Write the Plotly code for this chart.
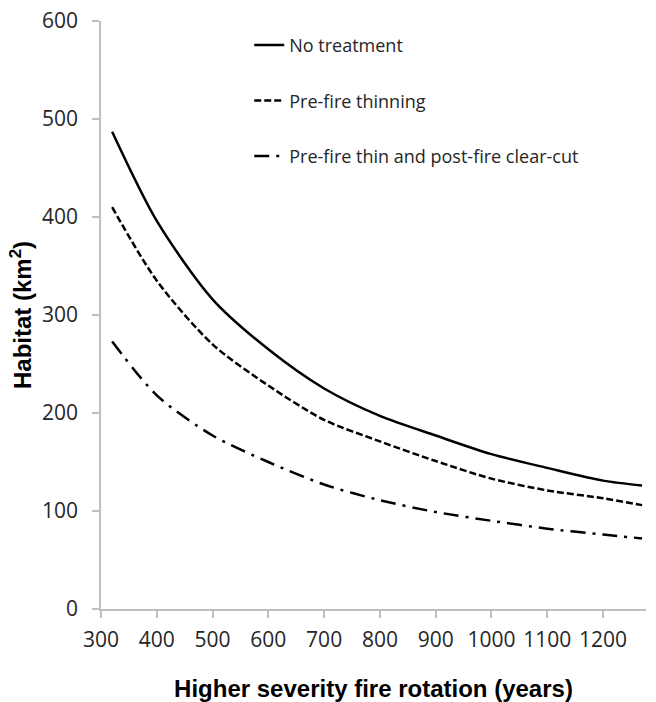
import plotly.graph_objects as go

rotation_years = [320, 400, 500, 600, 700, 800, 900, 1000, 1100, 1200, 1270]
no_treatment = [487, 396, 316, 265, 225, 197, 177, 158, 144, 131, 126]
prefire_thinning = [410, 335, 270, 228, 193, 171, 151, 133, 121, 113, 106]
thin_and_clearcut = [273, 218, 177, 150, 127, 111, 99, 90, 82, 76, 72]

series = [
    ("No treatment", no_treatment, "solid"),
    ("Pre-fire thinning", prefire_thinning, "7px,3px"),
    ("Pre-fire thin and post-fire clear-cut", thin_and_clearcut, "15px,7px,3px,7px"),
]

fig = go.Figure()
for i, (name, vals, dash) in enumerate(series):
    fig.add_trace(go.Scatter(
        x=rotation_years, y=vals, mode="lines", name=name,
        legendgroup=f"g{i}",
        line=dict(color="black", width=2.5, dash=dash, shape="spline", smoothing=0.8),
    ))

axis_font = dict(family="Open Sans, Lato, sans-serif", size=21, color="#262626")
title_font = dict(family="Liberation Sans, Arial, sans-serif", size=24, color="black")
fig.update_layout(
    width=656, height=702,
    margin=dict(l=101, r=10, t=21, b=93),
    paper_bgcolor="white", plot_bgcolor="white",
    showlegend=True,
    legend=dict(
        x=0.272, y=0.99, xanchor="left", yanchor="top",
        font=dict(family="Open Sans, Lato, sans-serif", size=18, color="#262626"),
        traceorder="grouped", tracegroupgap=29,
        bgcolor="rgba(0,0,0,0)",
    ),
    xaxis=dict(
        automargin=False,
        range=[300, 1277], tickvals=[300, 400, 500, 600, 700, 800, 900, 1000, 1100, 1200],
        showgrid=False, zeroline=False, showline=True, linecolor="#bfbfbf", linewidth=1.5,
        ticks="outside", ticklen=7, tickcolor="#bfbfbf", tickwidth=1.5,
        tickfont=axis_font, ticklabelstandoff=4,
        title=dict(text="<b>Higher severity fire rotation (years)</b>",
                   font=title_font, standoff=32),
    ),
    yaxis=dict(
        automargin=False,
        range=[0, 600], tickvals=[0, 100, 200, 300, 400, 500, 600],
        showgrid=False, zeroline=False, showline=True, linecolor="#bfbfbf", linewidth=1.5,
        ticks="outside", ticklen=7, tickcolor="#bfbfbf", tickwidth=1.5,
        tickfont=axis_font, ticklabelstandoff=10,
        title=dict(text="<b>Habitat (km<sup>2</sup>)</b>",
                   font=title_font, standoff=4),
    ),
)

fig.write_html("out.html", config={"displayModeBar": False},
               post_script="document.body.style.margin='0';")
